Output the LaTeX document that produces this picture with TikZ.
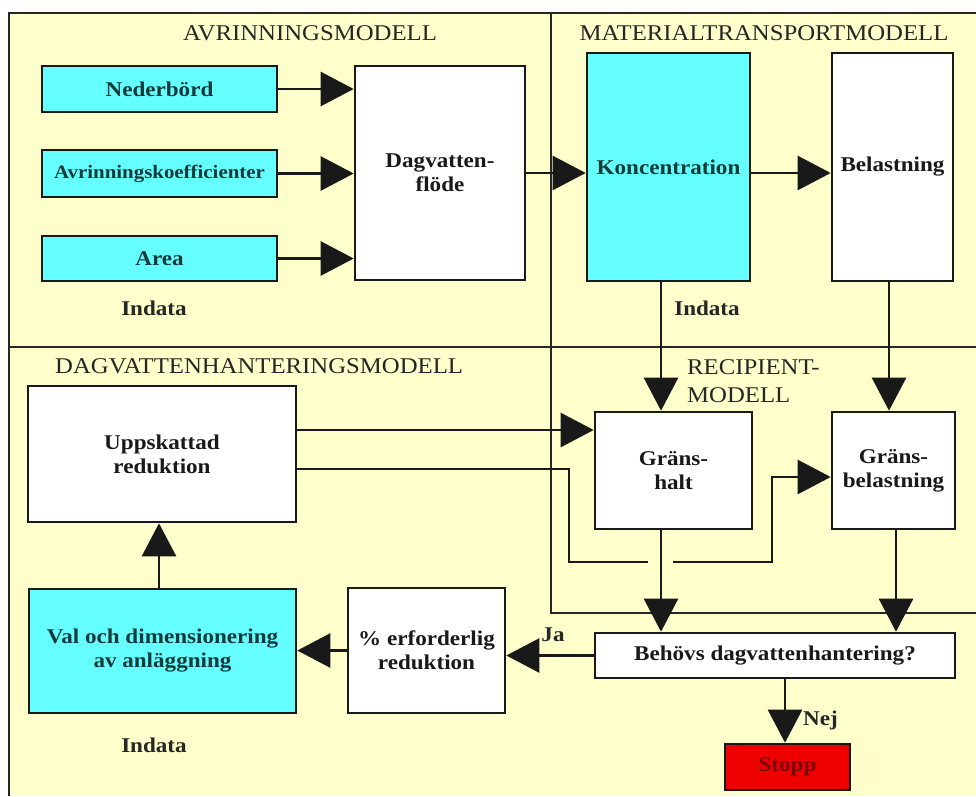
\documentclass[tikz,border=0pt]{standalone}
\usepackage{fontspec}
\setmainfont{Liberation Serif}[FakeStretch=1.1]
\usetikzlibrary{arrows.meta}
\definecolor{bgy}{HTML}{FFFFCC}
\definecolor{cy}{HTML}{66FFFF}
\definecolor{rd}{HTML}{EE0000}
\definecolor{stoptxt}{HTML}{7A0000}
\definecolor{cytxt}{HTML}{143A3A}
\begin{document}
\begin{tikzpicture}[x=1pt,y=-1pt,
  frame/.style={line width=2.6pt, draw=black!85},
  box/.style={draw=black!90, line width=2.6pt, fill=white, inner sep=0pt, align=center,
    font=\fontsize{21}{24}\selectfont\bfseries, text=black!90},
  cbox/.style={box, fill=cy, text=cytxt},
  ttl/.style={inner sep=0pt, font=\fontsize{22.5}{28}\selectfont, text=black!85},
  lbl/.style={inner sep=0pt, font=\fontsize{21}{24}\selectfont\bfseries, text=black!85},
  ln/.style={line width=2.6pt, draw=black!90},
  arr/.style={ln, -{Triangle[length=33pt,width=34pt]}}
]
\useasboundingbox (0,0) rectangle (976,796);
% background and frame
\fill[bgy] (9,13) rectangle (976,796);
\draw[frame] (976,13) -- (9,13) -- (9,796);
\draw[frame] (9,347) -- (976,347);
\draw[frame] (551,13) -- (551,613) -- (976,613);

% titles
\node[ttl] (t1) at (310,33) {AVRINNINGSMODELL};
\node[ttl] (t2) at (764,33) {MATERIALTRANSPORTMODELL};
\node[ttl, anchor=west] (t3) at (55,366) {DAGVATTENHANTERINGSMODELL};
\node[ttl, anchor=west, align=left] (t4) at (687,381) {RECIPIENT-\\MODELL};

% nodes
\node[cbox, minimum width=235pt, minimum height=46pt] (ned) at (159.5,89) {Nederbörd};
\node[cbox, minimum width=235pt, minimum height=47pt, font=\fontsize{19}{22}\selectfont\bfseries] (avr) at (159.5,173.5) {Avrinningskoefficienter};
\node[cbox, minimum width=235pt, minimum height=45pt] (area) at (159.5,258.5) {Area};
\node[lbl] (in1) at (154,308) {Indata};
\node[box, minimum width=170pt, minimum height=214pt] (dag) at (440,173) {Dagvatten-\\flöde};
\node[cbox, minimum width=163pt, minimum height=228pt] (kon) at (668.5,167) {Koncentration};
\node[box, minimum width=121pt, minimum height=228pt] (bel) at (892.5,167) {Belastning};
\node[lbl] (in2) at (707,308) {Indata};

\node[box, minimum width=157pt, minimum height=117pt] (gh) at (673.5,470.5) {Gräns-\\halt};
\node[box, minimum width=123pt, minimum height=117pt] (gb) at (893.5,470.5) {Gräns-\\belastning};
\node[box, minimum width=268pt, minimum height=136pt] (upp) at (162,454) {Uppskattad\\reduktion};
\node[box, minimum width=360pt, minimum height=45pt] (beh) at (775,655.5) {Behövs dagvattenhantering?};
\node[box, minimum width=157pt, minimum height=125pt] (pct) at (426.5,650.5) {\% erforderlig\\reduktion};
\node[cbox, minimum width=267pt, minimum height=124pt] (val) at (162.5,651) {Val och dimensionering\\av anläggning};
\node[box, fill=rd, text=stoptxt, minimum width=125pt, minimum height=46pt] (stopp) at (787.5,767) {Stopp};
\node[lbl] (in3) at (154,745) {Indata};
\node[lbl] (ja) at (553,635) {Ja};
\node[lbl, anchor=west] (nej) at (803,720) {Nej};

% helper coordinates
\coordinate (xa) at (661,0);
\coordinate (xb) at (889,0);
\coordinate (xc) at (896,0);
\coordinate (xd) at (785,0);
\coordinate (xe) at (159,0);
\coordinate (ya) at (0,430);
\coordinate (yb) at (0,469);
\coordinate (yc) at (0,477);
\coordinate (c1) at (569,562);
\coordinate (gapL) at (648,562);
\coordinate (gapR) at (673,562);
\coordinate (c2) at (772,477);

% connectors
\draw[arr] (ned.east) -- (ned.east -| dag.west);
\draw[arr] (avr.east) -- (avr.east -| dag.west);
\draw[arr] (area.east) -- (area.east -| dag.west);
\draw[arr] (dag.east) -- (dag.east -| kon.west);
\draw[arr] (kon.east |- dag.east) -- (dag.east -| bel.west);
\draw[arr] (kon.south -| xa) -- (gh.north -| xa);
\draw[arr] (bel.south -| xb) -- (gb.north -| xb);
\draw[arr] (upp.east |- ya) -- (gh.west |- ya);
\draw[ln] (upp.east |- yb) -| (c1) -- (gapL);
\draw[arr] (gapR) -| (c2) -- (gb.west |- yc);
\draw[arr] (gh.south -| xa) -- (beh.north -| xa);
\draw[arr] (gb.south -| xc) -- (beh.north -| xc);
\draw[arr] (beh.south -| xd) -- (stopp.north -| xd);
\draw[arr] (beh.west) -- (beh.west -| pct.east);
\draw[arr] (pct.west) -- (pct.west -| val.east);
\draw[arr] (val.north -| xe) -- (upp.south -| xe);
\end{tikzpicture}
\end{document}
